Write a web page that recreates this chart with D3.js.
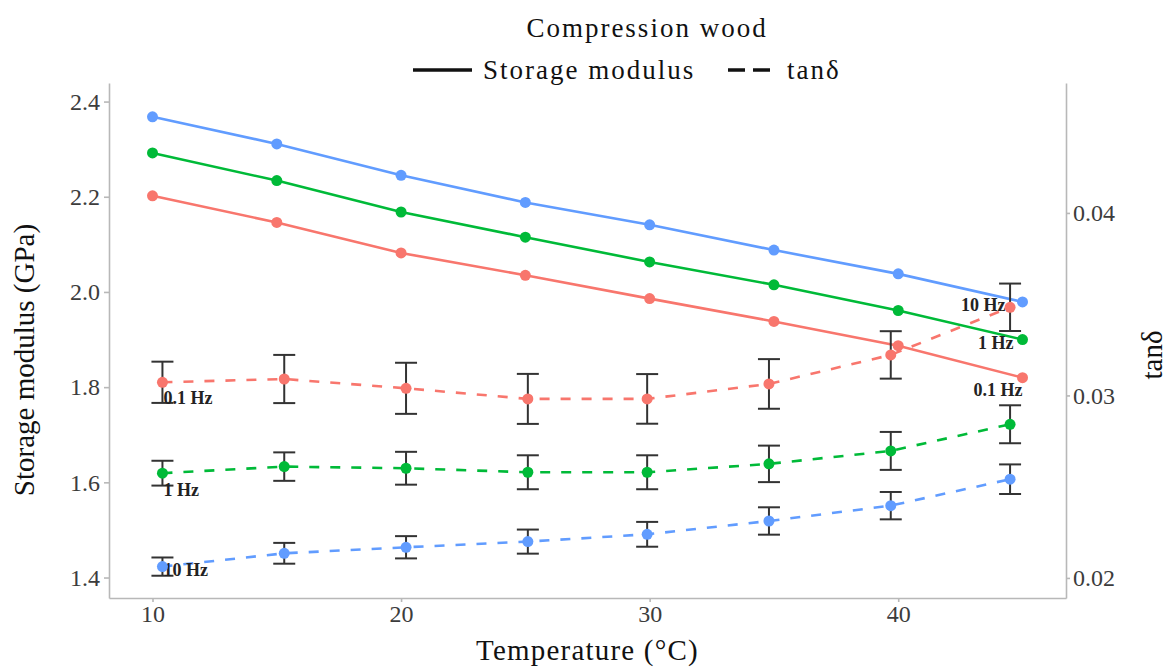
<!DOCTYPE html>
<html>
<head>
<meta charset="utf-8">
<script src="https://cdn.jsdelivr.net/npm/d3@7"></script>
<style>
  body { margin: 0; background: #fff; }
  svg { display: block; font-family: "Liberation Serif", "DejaVu Serif", serif; }
  .axis path, .axis line { stroke: #b8b8b8; stroke-width: 1.6; }
  .axis text { font-size: 24px; fill: #3c3c3c; font-family: "Liberation Serif", serif; }
</style>
</head>
<body>
<svg id="chart" width="1172" height="667"></svg>
<script>
// Temperatures (°C) of the storage modulus points and of the tan delta points
const temps = [10, 15, 20, 25, 30, 35, 40, 45];
const tanTemps = [10.4, 15.3, 20.2, 25.1, 29.9, 34.8, 39.7, 44.5];

const freqs = ["0.1 Hz", "1 Hz", "10 Hz"];
const colors = ["#F8766D", "#00BA38", "#619CFF"];

// Storage modulus (GPa)
const modulus01 = [2.202, 2.146, 2.082, 2.035, 1.986, 1.938, 1.887, 1.820];
const modulus1  = [2.292, 2.234, 2.168, 2.115, 2.063, 2.015, 1.961, 1.900];
const modulus10 = [2.368, 2.311, 2.245, 2.188, 2.141, 2.088, 2.038, 1.979];

// tan delta mean and error
const tan01    = [0.03072, 0.03090, 0.03039, 0.02981, 0.02981, 0.03063, 0.03222, 0.03483];
const tan01Err = [0.00113, 0.00132, 0.00140, 0.00137, 0.00136, 0.00136, 0.00130, 0.00130];
const tan1     = [0.02574, 0.02610, 0.02601, 0.02579, 0.02579, 0.02625, 0.02696, 0.02842];
const tan1Err  = [0.00068, 0.00078, 0.00090, 0.00093, 0.00093, 0.00100, 0.00104, 0.00104];
const tan10    = [0.02062, 0.02135, 0.02168, 0.02199, 0.02239, 0.02312, 0.02396, 0.02541];
const tan10Err = [0.00050, 0.00057, 0.00061, 0.00066, 0.00068, 0.00075, 0.00075, 0.00081];

// Tick labels
const xTicks = [10, 20, 30, 40];
const yTicks = [1.4, 1.6, 1.8, 2.0, 2.2, 2.4];
const tanTicks = [0.02, 0.03, 0.04];

const modulusSeries = [modulus01, modulus1, modulus10];
const tanSeries = [tan01, tan1, tan10];
const tanErrSeries = [tan01Err, tan1Err, tan10Err];

const svg = d3.select("#chart");
const panel = { left: 109, right: 1066, top: 83, bottom: 598 };

const x = d3.scaleLinear().domain([8.25, 46.75]).range([panel.left, panel.right]);
const y = d3.scaleLinear().domain([1.357, 2.439]).range([panel.bottom, panel.top]);
const yTan = d3.scaleLinear().domain([0.0189, 0.04712]).range([panel.bottom, panel.top]);

// Axes
svg.append("g")
  .attr("class", "axis")
  .attr("transform", `translate(${panel.left},0)`)
  .call(d3.axisLeft(y).tickValues(yTicks).tickFormat(d3.format(".1f")).tickSize(5).tickSizeOuter(0).tickPadding(4));

svg.append("g")
  .attr("class", "axis")
  .attr("transform", `translate(${panel.right},0)`)
  .call(d3.axisRight(yTan).tickValues(tanTicks).tickFormat(d3.format(".2f")).tickSize(4).tickSizeOuter(0).tickPadding(3));

svg.append("g")
  .attr("class", "axis")
  .attr("transform", `translate(0,${panel.bottom})`)
  .call(d3.axisBottom(x).tickValues(xTicks).tickSize(4).tickSizeOuter(0).tickPadding(3));

// Lines
const lineMod = d3.line().x((d, i) => x(temps[i])).y(d => y(d));
const lineTan = d3.line().x((d, i) => x(tanTemps[i])).y(d => yTan(d));

const plot = svg.append("g");

modulusSeries.forEach((s, k) => {
  plot.append("path")
    .datum(s)
    .attr("d", lineMod)
    .attr("fill", "none")
    .attr("stroke", colors[k])
    .attr("stroke-width", 2.6);
});

tanSeries.forEach((s, k) => {
  plot.append("path")
    .datum(s)
    .attr("d", lineTan)
    .attr("fill", "none")
    .attr("stroke", colors[k])
    .attr("stroke-width", 2.6)
    .attr("stroke-dasharray", "10,11");
});

// Error bars
tanSeries.forEach((s, k) => {
  const g = plot.append("g").attr("stroke", "#333").attr("stroke-width", 2);
  s.forEach((v, i) => {
    const e = tanErrSeries[k][i];
    const cx = x(tanTemps[i]);
    const y0 = yTan(v - e), y1 = yTan(v + e);
    g.append("line").attr("x1", cx).attr("x2", cx).attr("y1", y0).attr("y2", y1);
    g.append("line").attr("x1", cx - 11).attr("x2", cx + 11).attr("y1", y0).attr("y2", y0);
    g.append("line").attr("x1", cx - 11).attr("x2", cx + 11).attr("y1", y1).attr("y2", y1);
  });
});

// Frequency labels: left ones next to the first tan delta point, right ones next to the last modulus point
const leftDy = [22, 23, 9];
const rightDx = [0, -9, -17];
const rightDy = [18, 9, 9];
const labels = plot.append("g")
  .attr("font-weight", "bold")
  .attr("font-size", 18)
  .attr("fill", "#222");

freqs.forEach((f, k) => {
  labels.append("text")
    .attr("x", x(tanTemps[0]) + 1)
    .attr("y", yTan(tanSeries[k][0]) + leftDy[k])
    .attr("text-anchor", "start")
    .text(f);
  const last = temps.length - 1;
  labels.append("text")
    .attr("x", x(temps[last]) + rightDx[k])
    .attr("y", y(modulusSeries[k][last]) + rightDy[k])
    .attr("text-anchor", "end")
    .text(f);
});

// Points
modulusSeries.forEach((s, k) => {
  plot.append("g").selectAll("circle")
    .data(s)
    .join("circle")
    .attr("cx", (d, i) => x(temps[i]))
    .attr("cy", d => y(d))
    .attr("r", 5.5)
    .attr("fill", colors[k]);
});

tanSeries.forEach((s, k) => {
  plot.append("g").selectAll("circle")
    .data(s)
    .join("circle")
    .attr("cx", (d, i) => x(tanTemps[i]))
    .attr("cy", d => yTan(d))
    .attr("r", 5.5)
    .attr("fill", colors[k]);
});

// Axis titles
svg.append("text")
  .attr("x", (panel.left + panel.right) / 2)
  .attr("y", 660)
  .attr("text-anchor", "middle")
  .attr("font-size", 29)
  .attr("letter-spacing", 1.2)
  .attr("fill", "#111")
  .text("Temperature (°C)");

svg.append("text")
  .attr("transform", "rotate(-90)")
  .attr("x", -360)
  .attr("y", 34)
  .attr("text-anchor", "middle")
  .attr("font-size", 29)
  .attr("fill", "#111")
  .text("Storage modulus (GPa)");

svg.append("text")
  .attr("transform", "rotate(-90)")
  .attr("x", -355)
  .attr("y", 1162)
  .attr("text-anchor", "middle")
  .attr("font-size", 29)
  .attr("fill", "#111")
  .text("tanδ");

// Legend
const legend = svg.append("g")
  .attr("font-size", 27)
  .attr("letter-spacing", 2)
  .attr("fill", "#111");

legend.append("text")
  .attr("x", 647)
  .attr("y", 37)
  .attr("text-anchor", "middle")
  .text("Compression wood");

legend.append("line")
  .attr("x1", 413).attr("x2", 472)
  .attr("y1", 70).attr("y2", 70)
  .attr("stroke", "#111").attr("stroke-width", 3.5);

legend.append("text")
  .attr("x", 483)
  .attr("y", 79)
  .text("Storage modulus");

legend.append("line")
  .attr("x1", 728).attr("x2", 770)
  .attr("y1", 70).attr("y2", 70)
  .attr("stroke", "#111").attr("stroke-width", 3.5)
  .attr("stroke-dasharray", "17,8");

legend.append("text")
  .attr("x", 787)
  .attr("y", 79)
  .text("tanδ");
</script>
</body>
</html>
